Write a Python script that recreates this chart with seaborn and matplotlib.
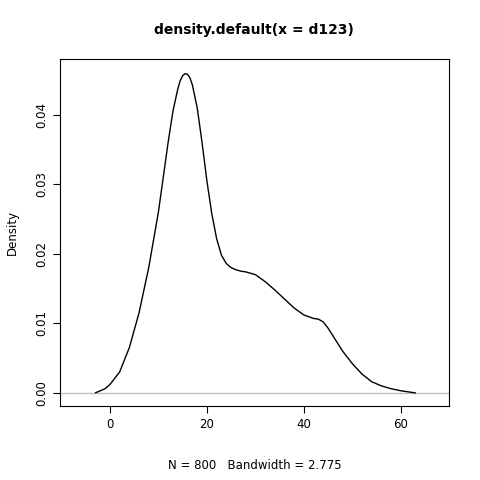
import matplotlib
matplotlib.use("Agg")
import matplotlib.pyplot as plt
import seaborn as sns
import pandas as pd

xs = [-3, -1, 0, 2, 4, 6, 8, 10, 11, 12, 13, 14, 14.5, 15, 15.5, 16, 16.5, 17, 18, 19, 20, 21, 22, 23, 24, 25, 26, 27, 28, 30, 32, 34, 36, 38, 40, 42, 43, 44, 45, 46, 48, 50, 52, 54, 56, 58, 60, 63]
ys = [0.0, 0.0006, 0.0012, 0.0030, 0.0065, 0.0115, 0.0180, 0.0260, 0.0310, 0.0360, 0.0405, 0.0437, 0.0449, 0.0456, 0.0459, 0.0458, 0.0453, 0.0443, 0.0410, 0.0360, 0.0305, 0.0258, 0.0222, 0.0198, 0.0186, 0.0180, 0.0177, 0.0175, 0.0174, 0.0170, 0.0160, 0.0148, 0.0135, 0.0122, 0.0112, 0.0107, 0.0106, 0.0102, 0.0093, 0.0082, 0.0060, 0.0042, 0.0027, 0.0016, 0.0010, 0.0006, 0.0003, 0.0]

sns.set_style("white")
df = pd.DataFrame({"x": xs, "y": ys})
fig, ax = plt.subplots(figsize=(4.8, 4.8), dpi=100)
fig.subplots_adjust(left=0.125, right=0.935, bottom=0.154, top=0.877)
ax.axhline(0, color="#bebebe", lw=1)
sns.lineplot(data=df, x="x", y="y", color="black", lw=1, ax=ax)
ax.set_xlim(-10.3, 69.9)
ax.set_ylim(-0.0019, 0.048)
ax.set_xticks([0, 20, 40, 60])
ax.set_yticks([0.0, 0.01, 0.02, 0.03, 0.04])
ax.set_yticklabels(["0.00", "0.01", "0.02", "0.03", "0.04"], rotation=90, va="center")
ax.tick_params(direction="out", length=5, labelsize=8.5, left=True, bottom=True, colors="black")
for s in ax.spines.values():
    s.set_color("black"); s.set_linewidth(0.8)
ax.set_xlabel("N = 800   Bandwidth = 2.775", fontsize=8.5, color="black", labelpad=20)
ax.set_ylabel("Density", fontsize=8.5, color="black", labelpad=12)
ax.set_title("density.default(x = d123)", fontsize=10, fontweight="bold", pad=18, color="black")
fig.savefig("out.png")
